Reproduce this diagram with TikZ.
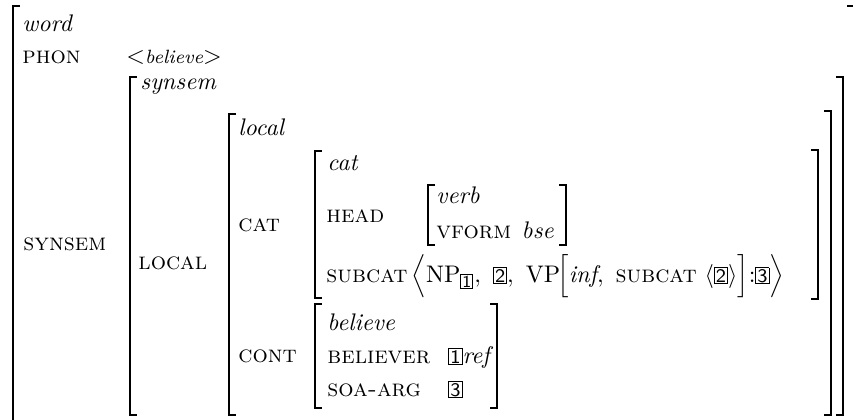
\documentclass[tikz,border=0pt]{standalone}
\usepackage{amsmath}
\usetikzlibrary{positioning}
\setlength{\fboxsep}{0.4pt}
\setlength{\fboxrule}{0.4pt}
\newcommand\tagbox[1]{\fbox{\sffamily\footnotesize #1}}
\newcommand\subtag[1]{\fbox{\sffamily\scriptsize #1}}
\newcommand\avmL[3]{\draw[brack] (#1+7,#2) -| (#1,#3) -- (#1+7,#3);}
\newcommand\avmR[3]{\draw[brack] (#1-7,#2) -| (#1,#3) -- (#1-7,#3);}

\begin{document}
\begin{tikzpicture}[x=0.4167pt, y=-0.4167pt,
    brack/.style={line width=0.6pt},
    attr/.style={anchor=base west, inner sep=0pt, font=\scshape},
    sort/.style={anchor=base west, inner sep=0pt, font=\itshape},
    val/.style={anchor=base west, inner sep=0pt}]
    \clip (0,0) rectangle (853,419);

    \avmL{13}{6}{425}   \avmR{854}{6}{425}
    \avmL{130}{77}{415} \avmR{843}{77}{415}
    \avmL{229}{114}{415}\avmR{831}{111}{415}
    \avmL{315}{151}{298}\avmR{818}{150}{299}
    \avmL{428}{185}{245}\avmR{566}{185}{245}
    \avmL{315}{304}{408}\avmR{497}{304}{408}

    \node[sort] (word) at (22,31) {word};
    \node[attr] (phon) at (22,63) {phon};
    \node[val] (phonval) at (126,63) {$<$\textit{\footnotesize believe}$>$};
    \node[attr] (synsemattr) at (23,250) {synsem};
    \node[sort] (synsem) at (140,89) {synsem};
    \node[attr] (localattr) at (138,269) {local};
    \node[sort] (local) at (238,135) {local};
    \node[attr] (catattr) at (238,231) {cat};
    \node[attr] (contattr) at (238,362) {cont};

    \node[sort] (cat) at (327,170) {cat};
    \node[attr] (head) at (326,222) {head};
    \node[sort] (verb) at (436,203) {verb};
    \node[attr] (vform) at (436,238) {vform};
    \node[sort, base right=4pt of vform] (bse) {bse};
    \node[attr] (subcat) at (326,282) {subcat};
    \node[val] (subcatval) at (411,282)
        {$\Big\langle\mathrm{NP}_{\mbox{\subtag{1}}},\ \tagbox{2},\ \mathrm{VP}\mkern-2mu\Big[\textit{inf},\ \textsc{subcat}\ \langle\tagbox{2}\rangle\Big]{:}\tagbox{3}\Big\rangle$};

    \node[sort] (believe) at (327,330) {believe};
    \node[attr] (believer) at (327,363) {believer};
    \node[val] (believerval) at (448,363) {\tagbox{1}\textit{ref}};
    \node[attr] (soaarg) at (327,396) {soa-arg};
    \node[val] (soaargval) at (448,396) {\tagbox{3}};
\end{tikzpicture}
\end{document}
